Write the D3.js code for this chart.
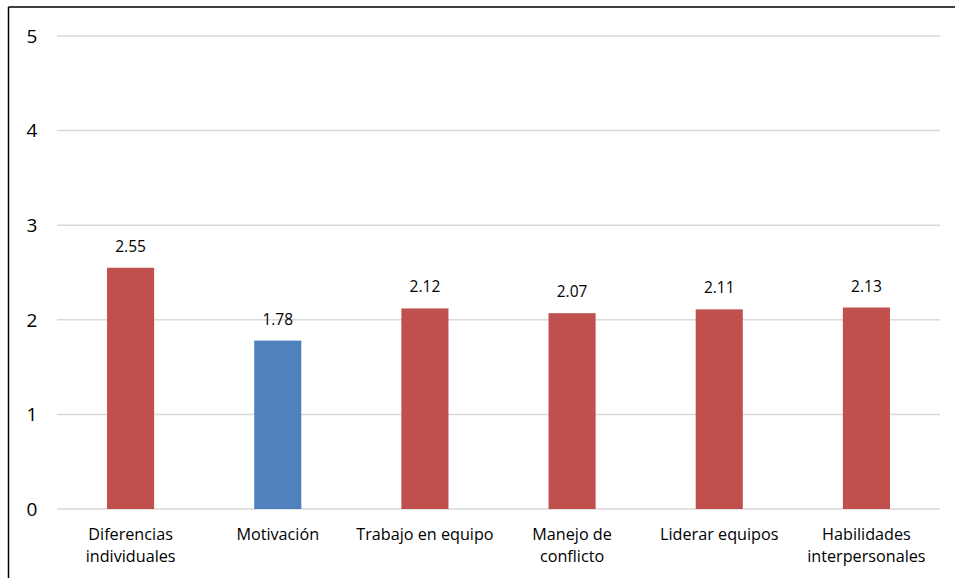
<!DOCTYPE html>
<html>
<head>
<meta charset="utf-8">
<script src="https://cdn.jsdelivr.net/npm/d3@7"></script>
<style>
  html, body { margin: 0; padding: 0; background: #fff; }
  svg { display: block; }
</style>
</head>
<body>
<svg id="chart" width="955" height="578"></svg>
<script>
// Scores per competence
const categories = [
  ["Diferencias", "individuales"],
  ["Motivación"],
  ["Trabajo en equipo"],
  ["Manejo de", "conflicto"],
  ["Liderar equipos"],
  ["Habilidades", "interpersonales"]
];
const values = [2.55, 1.78, 2.12, 2.07, 2.11, 2.13];
const highlighted = [false, true, false, false, false, false];
const yTicks = [0, 1, 2, 3, 4, 5];

const W = 955, H = 578;
const margin = { left: 57, right: 15, top: 36, bottom: 69 };
const font = "'Open Sans', sans-serif";

const svg = d3.select("#chart");

// Frame (top and left edges)
svg.append("line").attr("x1", 8.5).attr("x2", W).attr("y1", 7).attr("y2", 7)
  .attr("stroke", "#000").attr("stroke-width", 1.5);
svg.append("line").attr("x1", 8.5).attr("x2", 8.5).attr("y1", 7).attr("y2", H)
  .attr("stroke", "#000").attr("stroke-width", 1.5);

const x = d3.scaleBand()
  .domain(d3.range(values.length))
  .range([margin.left, 940])
  .paddingInner(0.68)
  .paddingOuter(0.34);

const y = d3.scaleLinear().domain([0, 5]).range([509, 36]);

// Gridlines
svg.append("g").selectAll("line").data(yTicks).join("line")
  .attr("x1", margin.left).attr("x2", 940)
  .attr("y1", d => y(d)).attr("y2", d => y(d))
  .attr("stroke", "#d9d9d9").attr("stroke-width", 1.5);

// Y axis labels
svg.append("g").selectAll("text").data(yTicks).join("text")
  .attr("x", 32).attr("y", d => y(d)).attr("dy", "0.36em")
  .attr("text-anchor", "middle")
  .attr("font-family", font).attr("font-size", 19).attr("fill", "#000")
  .text(d => d);

// Bars
svg.append("g").selectAll("rect").data(values).join("rect")
  .attr("x", (d, i) => x(i))
  .attr("width", x.bandwidth())
  .attr("y", d => y(d))
  .attr("height", d => y(0) - y(d))
  .attr("fill", (d, i) => highlighted[i] ? "#4F81BD" : "#C0504D");

// Value labels
svg.append("g").selectAll("text").data(values).join("text")
  .attr("x", (d, i) => x(i) + x.bandwidth() / 2)
  .attr("y", d => y(d) - 16)
  .attr("text-anchor", "middle")
  .attr("font-family", font).attr("font-size", 15.5).attr("fill", "#000")
  .text(d => d.toFixed(2));

// Category labels
const cat = svg.append("g").selectAll("text").data(categories).join("text")
  .attr("x", (d, i) => x(i) + x.bandwidth() / 2)
  .attr("y", 540)
  .attr("text-anchor", "middle")
  .attr("font-family", font).attr("font-size", 16.2).attr("fill", "#000");
cat.selectAll("tspan").data(d => d).join("tspan")
  .attr("x", function () { return d3.select(this.parentNode).attr("x"); })
  .attr("dy", (d, j) => j === 0 ? 0 : 22)
  .text(d => d);
</script>
</body>
</html>
